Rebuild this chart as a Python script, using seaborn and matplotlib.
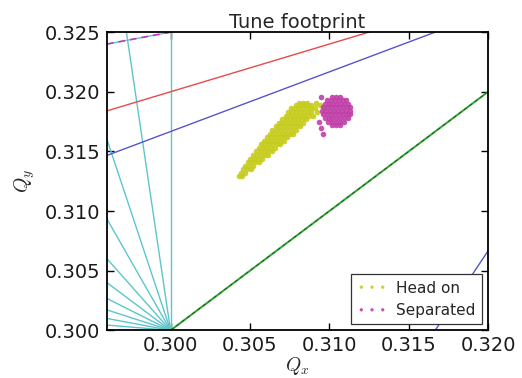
import matplotlib
matplotlib.use("Agg")
import matplotlib.pyplot as plt
import seaborn as sns
import pandas as pd

# tune footprint points, one row per Qy level
head_on_rows = [
    (0.3129, [0.30430, 0.30450]),
    (0.3132, [0.30442, 0.30467]),
    (0.3135, [0.30455, 0.30480, 0.30505]),
    (0.3138, [0.30470, 0.30495, 0.30520]),
    (0.3141, [0.30485, 0.30510, 0.30535, 0.30555]),
    (0.3144, [0.30500, 0.30525, 0.30550, 0.30575]),
    (0.3147, [0.30520, 0.30545, 0.30570, 0.30595, 0.30612]),
    (0.3150, [0.30540, 0.30565, 0.30590, 0.30615, 0.30640]),
    (0.3153, [0.30555, 0.30580, 0.30605, 0.30630, 0.30655]),
    (0.3156, [0.30572, 0.30597, 0.30622, 0.30647, 0.30672, 0.30690]),
    (0.3159, [0.30590, 0.30615, 0.30640, 0.30665, 0.30690, 0.30715]),
    (0.3162, [0.30607, 0.30632, 0.30657, 0.30682, 0.30707, 0.30732]),
    (0.3165, [0.30625, 0.30650, 0.30675, 0.30700, 0.30725, 0.30750, 0.30770]),
    (0.3168, [0.30642, 0.30667, 0.30692, 0.30717, 0.30742, 0.30767, 0.30792]),
    (0.3171, [0.30665, 0.30690, 0.30715, 0.30740, 0.30765, 0.30790, 0.30815]),
    (0.3174, [0.30685, 0.30710, 0.30735, 0.30760, 0.30785, 0.30810, 0.30835]),
    (0.3177, [0.30705, 0.30730, 0.30755, 0.30780, 0.30805, 0.30830, 0.30855]),
    (0.3180, [0.30725, 0.30750, 0.30775, 0.30800, 0.30825, 0.30850, 0.30875, 0.30900]),
    (0.3183, [0.30742, 0.30767, 0.30792, 0.30817, 0.30842, 0.30867, 0.30885, 0.30925]),
    (0.3186, [0.30760, 0.30785, 0.30810, 0.30835, 0.30860, 0.30885, 0.30910]),
    (0.3189, [0.30792, 0.30817, 0.30842, 0.30867, 0.30885, 0.30940]),
    (0.3191, [0.30812, 0.30837, 0.30862, 0.30915]),
]

separated_rows = [
    (0.3165, [0.30960]),
    (0.3170, [0.30945]),
    (0.3172, [0.31020, 0.31045, 0.31070]),
    (0.3175, [0.30935, 0.30990, 0.31015, 0.31040, 0.31065, 0.31090]),
    (0.3178, [0.30970, 0.30995, 0.31020, 0.31045, 0.31070, 0.31095, 0.31120]),
    (0.3181, [0.30960, 0.30985, 0.31010, 0.31035, 0.31060, 0.31085, 0.31110, 0.31130]),
    (0.3184, [0.30955, 0.30980, 0.31005, 0.31030, 0.31055, 0.31080, 0.31105, 0.31130]),
    (0.3187, [0.30960, 0.30985, 0.31010, 0.31035, 0.31060, 0.31085, 0.31110, 0.31130]),
    (0.3190, [0.30970, 0.30995, 0.31020, 0.31045, 0.31070, 0.31095, 0.31120]),
    (0.3193, [0.30985, 0.31010, 0.31035, 0.31060, 0.31085, 0.31105]),
    (0.3196, [0.30950, 0.31020, 0.31045, 0.31070]),
]

# resonance lines a*Qx + b*Qy = k
cyan_lines = [(10, 0, 3), (9, 1, 3), (8, 2, 3), (7, 3, 3), (6, 4, 3),
              (5, 5, 3), (4, 6, 3), (3, 7, 3), (2, 8, 3), (1, 9, 3), (-2, 8, 2)]
magenta_lines = [(-1, 4, 1)]
red_lines = [(-2, 5, 1)]
blue_lines = [(-3, 6, 1), (6, -3, 1)]
green_lines = [(1, -1, 0)]

x_ticks = [0.300, 0.305, 0.310, 0.315, 0.320]
y_ticks = [0.300, 0.305, 0.310, 0.315, 0.320, 0.325]
x_range = (0.296, 0.320)
y_range = (0.300, 0.325)


def flatten(rows):
    qx, qy = [], []
    for y, xs in rows:
        for x in xs:
            qx.append(x)
            qy.append(y)
    return pd.DataFrame({"qx": qx, "qy": qy})


def draw_resonances(ax, lines, **kw):
    for a, b, k in lines:
        if b == 0:
            ax.axvline(k / a, **kw)
        else:
            xs = list(x_range)
            ys = [(k - a * x) / b for x in xs]
            ax.plot(xs, ys, **kw)


sns.set_style("ticks")
plt.rcParams["font.family"] = ["DejaVu Sans"]
plt.rcParams["mathtext.fontset"] = "cm"

fig = plt.figure(figsize=(5.22, 3.78), dpi=100)
ax = fig.add_axes([0.205, 0.126, 0.73, 0.789])

draw_resonances(ax, cyan_lines, color="#5cc6cc", lw=1.0, zorder=1)
draw_resonances(ax, magenta_lines, color="#cc33bb", lw=1.2, ls=(0, (4, 3)), zorder=2)
draw_resonances(ax, red_lines, color="#e84a4a", lw=1.0, zorder=1)
draw_resonances(ax, blue_lines, color="#5555cc", lw=1.0, zorder=1)
draw_resonances(ax, green_lines, color="#30a030", lw=1.4, zorder=1)
draw_resonances(ax, green_lines, color="#1a5a1a", lw=0.6, ls=(0, (4, 4)), zorder=2)

head_on = flatten(head_on_rows)
separated = flatten(separated_rows)
sns.scatterplot(data=head_on, x="qx", y="qy", ax=ax, color="#c6cc1c",
                s=16, linewidth=0, alpha=0.9, label="Head on", zorder=3)
sns.scatterplot(data=separated, x="qx", y="qy", ax=ax, color="#c040a8",
                s=16, linewidth=0, alpha=0.9, label="Separated", zorder=3)

ax.set_xlim(*x_range)
ax.set_ylim(*y_range)
ax.set_xticks(x_ticks)
ax.set_yticks(y_ticks)
ax.set_xticklabels([f"{v:.3f}" for v in x_ticks])
ax.set_yticklabels([f"{v:.3f}" for v in y_ticks])
ax.tick_params(direction="in", top=True, right=True, length=5, width=1,
               labelsize=14, color="black", labelcolor="#1a1a1a")
ax.tick_params(axis="y", pad=5)
ax.tick_params(axis="x", pad=4)
for sp in ax.spines.values():
    sp.set_visible(True)
    sp.set_color("black")
    sp.set_linewidth(1.3)

ax.set_xlabel("$Q_x$", fontsize=14, labelpad=0)
ax.set_ylabel("$Q_y$", fontsize=14, labelpad=5)
ax.set_title("Tune footprint", fontsize=14, pad=3)

leg = ax.legend(loc="lower right", fontsize=11, scatterpoints=3,
                scatteryoffsets=[0.5, 0.5, 0.5], markerscale=0.6,
                fancybox=False, framealpha=1, edgecolor="#333333",
                borderaxespad=0.4, handletextpad=0.6)
leg.get_frame().set_linewidth(0.9)

fig.savefig("out.png", dpi=100)
